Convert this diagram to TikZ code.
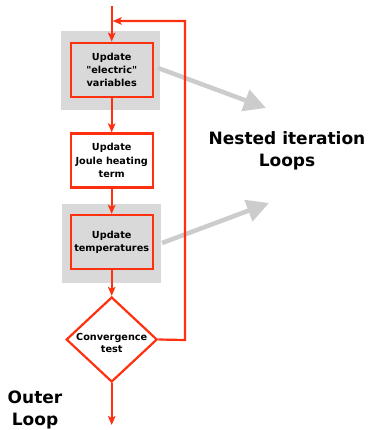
\documentclass[tikz,border=0pt]{standalone}
\usepackage{fontspec}
\newfontfamily\dv{DejaVu Sans}
\usetikzlibrary{arrows.meta,shapes.geometric}
\definecolor{fred}{RGB}{255,48,16}
\definecolor{boxgray}{RGB}{217,217,217}
\definecolor{arrgray}{RGB}{204,204,204}
\tikzset{
  flow/.style={draw=fred,line width=2.2pt,-{Stealth[length=9pt,width=7.5pt,inset=2pt]}},
  proc/.style={draw=fred,line width=2.2pt,minimum width=82pt,minimum height=54pt,align=center,font=\dv\bfseries\fontsize{9.7}{13.3}\selectfont,inner sep=1pt},
  backbox/.style={fill=boxgray,minimum width=99pt,minimum height=79pt},
  dec/.style={diamond,draw=fred,line width=2.2pt,fill=white,minimum width=91pt,minimum height=85pt,aspect=1.07,align=center,inner sep=0pt,font=\dv\bfseries\fontsize{9.7}{12}\selectfont},
  garrow/.style={draw=arrgray,line width=4.5pt,-{Triangle[length=22pt,width=22pt]}},
  big/.style={font=\dv\bfseries\fontsize{17}{22}\selectfont,align=center}
}
\begin{document}
\begin{tikzpicture}[x=1pt,y=-1pt]
\useasboundingbox (0,0) rectangle (370,430);
\node[backbox] (g1) at (110.5,71) {};
\node[backbox] (g2) at (111.5,243.5) {};
\node[proc,fill=boxgray] (b1) at (111.7,69.7) {Update\\"electric"\\variables};
\node[proc,fill=white] (b2) at (111.7,160.5) {Update\\Joule heating\\term};
\node[proc,fill=boxgray] (b3) at (111.7,242) {Update\\temperatures};
\node[dec] (d) at (111.7,339.5) {};
\node[font=\dv\bfseries\fontsize{9.7}{12}\selectfont,align=center] (dt) at (111.7,342.5) {Convergence\\test};
\coordinate (top) at (111.7,6);
\coordinate (bot) at (111.7,425);
\coordinate (rc) at (185,340);
\coordinate (tc) at (185,21);
\coordinate (jn) at (111.7,21);
\node[big] (nest) at (287,151) {Nested iteration\\Loops};
\node[big] (outer) at (35,410) {Outer\\Loop};
\coordinate (a1s) at (158,68);
\coordinate (a1e) at (266,108);
\coordinate (a2s) at (162,243);
\coordinate (a2e) at (269,203);
\draw[garrow] (a1s) -- (a1e);
\draw[garrow] (a2s) -- (a2e);
\draw[flow] (top) -- (b1.north);
\draw[flow] (b1.south) -- (b2.north);
\draw[flow] (b2.south) -- (b3.north);
\draw[flow] (b3.south) -- (d.north);
\draw[flow] (d.south) -- (bot);
\draw[flow] (d.east) -- (rc) -- (tc) -- ([xshift=1pt]jn);
\end{tikzpicture}
\end{document}
